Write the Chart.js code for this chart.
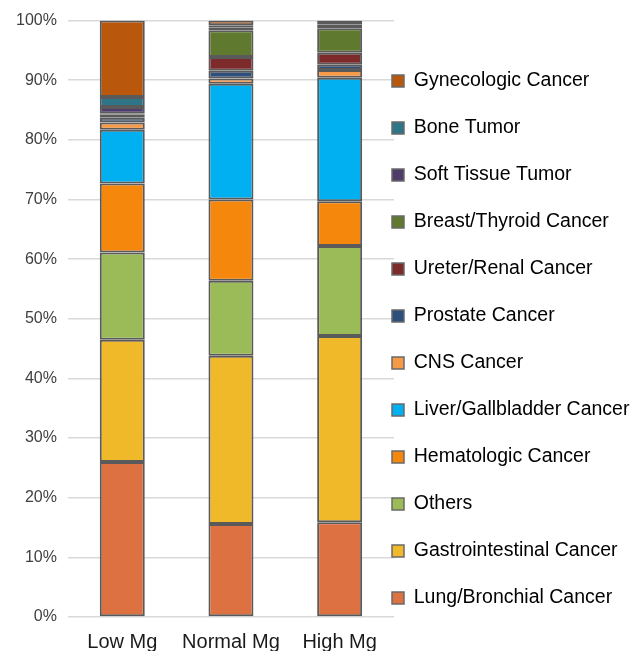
<!DOCTYPE html>
<html>
<head>
<meta charset="utf-8">
<script src="https://cdn.jsdelivr.net/npm/chart.js@4"></script>
<style>
  html, body { margin: 0; padding: 0; background: #fff; }
  #wrap { width: 639px; height: 651px; }
</style>
</head>
<body>
<div id="wrap"><canvas id="canvas" width="639" height="651"></canvas></div>
<script>
// categories and series (percent of each group)
const groups = ['Low Mg', 'Normal Mg', 'High Mg'];

const lungBronchial   = [26.0, 15.6, 15.9];
const gastrointestinal = [20.5, 28.2, 31.2];
const others          = [14.6, 12.6, 15.1];
const hematologic     = [11.6, 13.6, 7.5];
const liverGall       = [9.0, 19.4, 20.7];
const cns             = [1.2, 0.9, 1.3];
const prostate        = [0.8, 1.3, 0.9];
const ureterRenal     = [0.5, 2.3, 2.0];
const breastThyroid   = [0.2, 4.5, 4.1];
const softTissue      = [1.1, 0.4, 0.6];
const boneTumor       = [1.7, 0.4, 0.3];
const gynecologic     = [12.8, 0.8, 0.4];

const yTicks = [0, 10, 20, 30, 40, 50, 60, 70, 80, 90, 100];

// bottom to top
const seriesList = [
  ['Lung/Bronchial Cancer', lungBronchial, '#DE7142'],
  ['Gastrointestinal Cancer', gastrointestinal, '#F0B92A'],
  ['Others', others, '#9BBB59'],
  ['Hematologic Cancer', hematologic, '#F5870D'],
  ['Liver/Gallbladder Cancer', liverGall, '#00B0F0'],
  ['CNS Cancer', cns, '#F79A48'],
  ['Prostate Cancer', prostate, '#2C4F7C'],
  ['Ureter/Renal Cancer', ureterRenal, '#7C2A2A'],
  ['Breast/Thyroid Cancer', breastThyroid, '#5F7A2F'],
  ['Soft Tissue Tumor', softTissue, '#4F3C6B'],
  ['Bone Tumor', boneTumor, '#2E7588'],
  ['Gynecologic Cancer', gynecologic, '#B9580C']
];

var datasets = seriesList.map(s => ({
  label: s[0],
  data: s[1],
  backgroundColor: s[2],
  borderColor: '#5a5a5a',
  borderWidth: 2,
  borderSkipped: false,
  barPercentage: 0.414,
  categoryPercentage: 1.0
}));

// nudges the legend so its boxes sit right next to the plot, like the original
const legendNudge = {
  id: 'legendNudge',
  afterLayout(chart) {
    var lg = chart.legend;
    lg.left -= 29.5;
    lg.width += 29.5;
    lg.top -= 4; lg.bottom -= 4;
  }
};

var ctx = document.getElementById('canvas').getContext('2d');
var myChart = new Chart(ctx, {
  type: 'bar',
  data: { labels: groups, datasets: datasets },
  plugins: [legendNudge],
  options: {
    responsive: false,
    animation: false,
    layout: { padding: { top: 20, left: 5, right: 0, bottom: -16 } },
    plugins: {
      tooltip: { enabled: false },
      legend: {
        position: 'right',
        reverse: true,
        align: 'center',
        maxWidth: 245,
        labels: {
          boxWidth: 12,
          boxHeight: 12,
          padding: 27.5,
          color: '#1a1a1a',
          font: { family: 'Liberation Sans', size: 19.5, lineHeight: 1.0 },
          generateLabels: function(chart) {
            return chart.data.datasets.map((ds, i) => ({
              text: ds.label,
              fillStyle: ds.backgroundColor,
              strokeStyle: '#6a6a6a',
              lineWidth: 1.5,
              hidden: false,
              datasetIndex: i
            }));
          }
        }
      }
    },
    scales: {
      x: {
        stacked: true,
        grid: { display: false, drawTicks: false },
        border: { display: false },
        ticks: {
          color: '#1a1a1a',
          font: { family: 'Liberation Sans', size: 20, lineHeight: 1.0 },
          padding: 15,
          maxRotation: 0,
          minRotation: 0,
          autoSkip: false
        }
      },
      y: {
        stacked: true,
        min: 0,
        max: 100,
        afterBuildTicks: axis => { axis.ticks = yTicks.map(v => ({ value: v })); },
        grid: { color: '#d9d9d9', lineWidth: 1.5, drawTicks: false },
        border: { display: false },
        ticks: {
          color: '#404040',
          font: { family: 'Liberation Sans', size: 16 },
          padding: 11,
          callback: v => v + '%'
        }
      }
    }
  }
});
</script>
</body>
</html>
